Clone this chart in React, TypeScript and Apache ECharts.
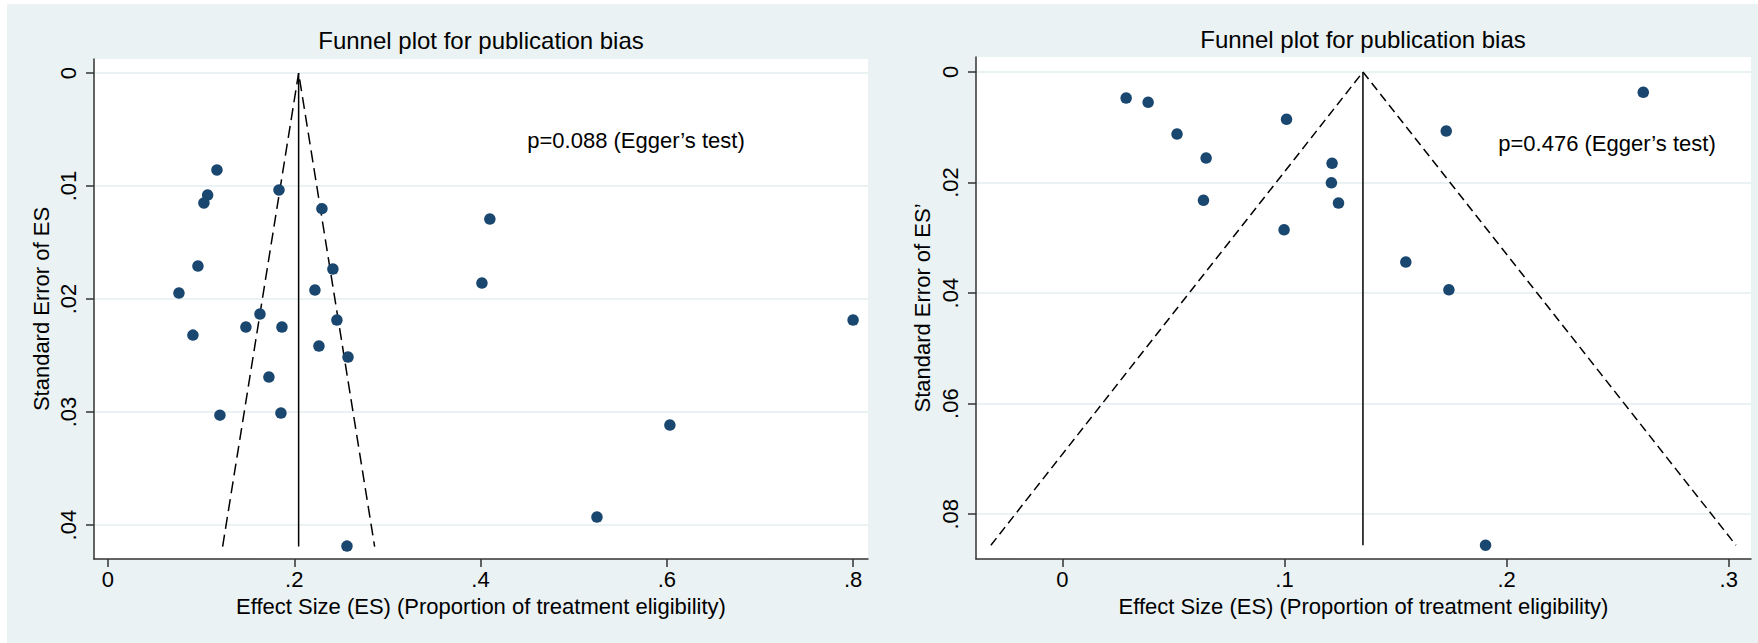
import React, { useEffect, useRef } from "react";
import * as echarts from "echarts";

const FONT = "'Liberation Sans', Arial, sans-serif";

const titleText = "Funnel plot for publication bias";
const xAxisTitle = "Effect Size (ES) (Proportion of treatment eligibility)";
const leftYAxisTitle = "Standard Error of ES";
const rightYAxisTitle = "Standard Error of ES\u2019";
const leftEggerText = "p=0.088 (Egger\u2019s test)";
const rightEggerText = "p=0.476 (Egger\u2019s test)";

// Left panel data
const leftES = [0.117, 0.107, 0.103, 0.1836, 0.2297, 0.0966, 0.2415, 0.0762, 0.2222, 0.1632, 0.2458, 0.0912, 0.1481, 0.1868, 0.2265, 0.2577, 0.1728, 0.1202, 0.1857, 0.2566, 0.41, 0.4015, 0.8, 0.6033, 0.525];
const leftSE = [0.00858, 0.0108, 0.0115, 0.01035, 0.012, 0.01708, 0.01735, 0.01947, 0.0192, 0.02133, 0.02186, 0.02319, 0.02248, 0.02248, 0.02416, 0.02513, 0.0269, 0.03027, 0.03009, 0.04186, 0.01292, 0.01858, 0.02186, 0.03115, 0.03929];
const leftFunnelX = [0.1231, 0.2047, 0.2863];
const leftFunnelY = [0.0419, 0, 0.0419];
const leftPooledX = [0.2047, 0.2047];
const leftPooledY = [0, 0.0419];
const leftXTicks = [0, 0.2, 0.4, 0.6, 0.8];
const leftYTicks = [0, 0.01, 0.02, 0.03, 0.04];

// Right panel data
const rightES = [0.0287, 0.0386, 0.0516, 0.0647, 0.0635, 0.1009, 0.0998, 0.2615, 0.1728, 0.1214, 0.1211, 0.1243, 0.1546, 0.174, 0.1905];
const rightSE = [0.00471, 0.00548, 0.01122, 0.01557, 0.02322, 0.00856, 0.02854, 0.00367, 0.01068, 0.01652, 0.02004, 0.02371, 0.03439, 0.0394, 0.0856];
const rightFunnelX = [-0.0322, 0.1353, 0.3032];
const rightFunnelY = [0.0856, 0, 0.0856];
const rightPooledX = [0.1353, 0.1353];
const rightPooledY = [0, 0.0856];
const rightXTicks = [0, 0.1, 0.2, 0.3];
const rightYTicks = [0, 0.02, 0.04, 0.06, 0.08];

const NAVY = "#1a476f";
const BLUISH = "#eaf2f3";
const AXIS = "#333333";

const fmt = (v: number) => {
  if (Math.abs(v) < 1e-12) return "0";
  return String(+v.toFixed(4)).replace(/^0\./, ".");
};

const zip = (a: number[], b: number[]) => a.map((v, i) => [v, b[i]]);

function xAxisFor(gridIndex: number, min: number, max: number, ticks: number[]) {
  return {
    type: "value",
    gridIndex,
    min,
    max,
    name: xAxisTitle,
    nameLocation: "middle",
    nameGap: 36,
    nameTextStyle: { fontSize: 22, color: "#000", fontFamily: FONT },
    axisLine: { show: true, onZero: false, lineStyle: { color: AXIS, width: 1.5 } },
    axisTick: { show: true, length: 8, customValues: ticks, lineStyle: { color: AXIS, width: 1.5 } },
    axisLabel: { customValues: ticks, formatter: fmt, fontSize: 22, color: "#000", margin: 9, fontFamily: FONT },
    splitLine: { show: false },
  };
}

function yAxisFor(gridIndex: number, min: number, max: number, ticks: number[], name: string, nameGap: number) {
  return {
    type: "value",
    gridIndex,
    min,
    max,
    inverse: true,
    name,
    nameLocation: "middle",
    nameGap,
    nameTextStyle: { fontSize: 22, color: "#000", fontFamily: FONT },
    axisLine: { show: true, onZero: false, lineStyle: { color: AXIS, width: 1.5 } },
    axisTick: { show: true, length: 8, customValues: ticks, lineStyle: { color: AXIS, width: 1.5 } },
    axisLabel: { customValues: ticks, formatter: fmt, fontSize: 22, color: "#000", margin: 15, rotate: 90, fontFamily: FONT },
    splitLine: { show: true, lineStyle: { color: BLUISH, width: 2 } },
  };
}

const textEl = (x: number, y: number, text: string, size: number) => ({
  type: "text",
  x,
  y,
  z: 10,
  style: {
    text,
    fill: "#000",
    fontSize: size,
    fontFamily: FONT,
    align: "center",
    verticalAlign: "middle",
    textAlign: "center",
    textVerticalAlign: "middle",
  },
});

export default function App() {
  const ref = useRef<HTMLDivElement>(null);

  useEffect(() => {
    document.body.style.margin = "0";
    if (!ref.current) return;
    const chart = echarts.init(ref.current, undefined, { renderer: "svg" });

    const option = {
      animation: false,
      backgroundColor: "#ffffff",
      graphic: [
        {
          type: "rect",
          z: -10,
          silent: true,
          shape: { x: 7, y: 4, width: 1751, height: 639 },
          style: { fill: BLUISH },
        },
        textEl(481, 40, titleText, 24),
        textEl(1363, 39, titleText, 24),
        textEl(636, 140, leftEggerText, 22),
        textEl(1607, 143, rightEggerText, 22),
      ],
      grid: [
        { left: 94, top: 59, width: 774, height: 500, show: true, backgroundColor: "#ffffff", borderWidth: 0 },
        { left: 976, top: 57, width: 775, height: 502, show: true, backgroundColor: "#ffffff", borderWidth: 0 },
      ],
      xAxis: [
        xAxisFor(0, -0.015, 0.816, leftXTicks),
        xAxisFor(1, -0.0389, 0.31, rightXTicks),
      ],
      yAxis: [
        yAxisFor(0, -0.00124, 0.043, leftYTicks, leftYAxisTitle, 42),
        yAxisFor(1, -0.00271, 0.0881, rightYTicks, rightYAxisTitle, 43),
      ],
      series: [
        {
          type: "line",
          xAxisIndex: 0,
          yAxisIndex: 0,
          data: zip(leftFunnelX, leftFunnelY),
          symbol: "none",
          silent: true,
          z: 2,
          lineStyle: { color: "#000", width: 1.5, type: [12, 6] },
        },
        {
          type: "line",
          xAxisIndex: 0,
          yAxisIndex: 0,
          data: zip(leftPooledX, leftPooledY),
          symbol: "none",
          silent: true,
          z: 2,
          lineStyle: { color: "#000", width: 1.5 },
        },
        {
          type: "scatter",
          xAxisIndex: 0,
          yAxisIndex: 0,
          data: zip(leftES, leftSE),
          symbolSize: 11.5,
          z: 3,
          itemStyle: { color: NAVY, opacity: 1 },
        },
        {
          type: "line",
          xAxisIndex: 1,
          yAxisIndex: 1,
          data: zip(rightFunnelX, rightFunnelY),
          symbol: "none",
          silent: true,
          z: 2,
          lineStyle: { color: "#000", width: 1.5, type: [9, 5] },
        },
        {
          type: "line",
          xAxisIndex: 1,
          yAxisIndex: 1,
          data: zip(rightPooledX, rightPooledY),
          symbol: "none",
          silent: true,
          z: 2,
          lineStyle: { color: "#000", width: 1.5 },
        },
        {
          type: "scatter",
          xAxisIndex: 1,
          yAxisIndex: 1,
          data: zip(rightES, rightSE),
          symbolSize: 11.5,
          z: 3,
          itemStyle: { color: NAVY, opacity: 1 },
        },
      ],
    };

    chart.setOption(option as any);
    return () => chart.dispose();
  }, []);

  return <div ref={ref} style={{ width: 1758, height: 643 }} />;
}
